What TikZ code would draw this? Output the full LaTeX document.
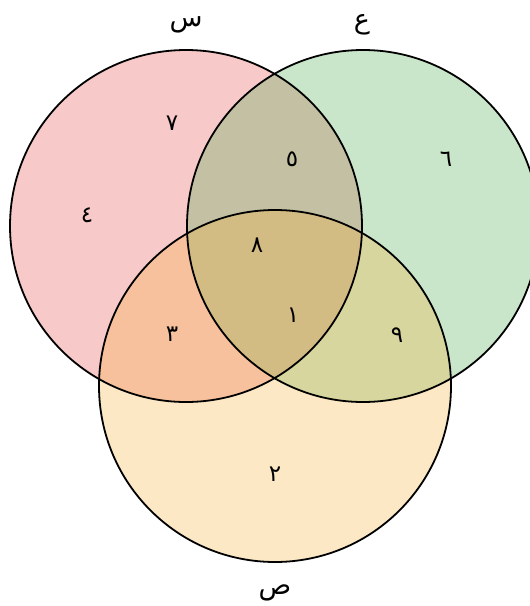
\documentclass[tikz,border=0pt]{standalone}
\usepackage{fontspec}
\newfontfamily\arabicfont[Script=Arabic]{DejaVu Sans}
\TeXXeTstate=1
\definecolor{cred}{RGB}{228,75,72}
\definecolor{cgreen}{RGB}{78,172,78}
\definecolor{corange}{RGB}{245,178,58}
\begin{document}
\begin{tikzpicture}[x=1pt,y=-1pt,
  setfill/.style={fill opacity=0.3},
  outline/.style={draw=black,line width=1.8pt},
  num/.style={font=\arabicfont\fontsize{23}{23}\selectfont,inner sep=0pt},
  lab/.style={font=\arabicfont\fontsize{27}{27}\selectfont,inner sep=0pt}]
\useasboundingbox (0,0) rectangle (530,606);
\clip (0,0) rectangle (530,606);
\coordinate (cA) at (186,226);
\coordinate (cB) at (363,226);
\coordinate (cC) at (275,386);
\fill[cred,setfill] (cA) circle[radius=176];
\fill[cgreen,setfill] (cB) circle[radius=176];
\fill[corange,setfill] (cC) circle[radius=176];
\draw[outline] (cA) circle[radius=176];
\draw[outline] (cB) circle[radius=176];
\draw[outline] (cC) circle[radius=176];
\node[lab] (ls) at (186,25) {\beginR س\endR};
\node[lab] (le) at (362,25) {\beginR ع\endR};
\node[lab] (lp) at (275,593) {\beginR ص\endR};
\node[num] (n7) at (172,123) {٧};
\node[num] (n5) at (292,159) {٥};
\node[num] (n6) at (446,159) {٦};
\node[num] (n4) at (87,215) {٤};
\node[num] (n8) at (257,245) {٨};
\node[num] (n1) at (293,315) {١};
\node[num] (n3) at (172,334) {٣};
\node[num] (n9) at (397,335) {٩};
\node[num] (n2) at (275,474) {٢};
\end{tikzpicture}
\end{document}
